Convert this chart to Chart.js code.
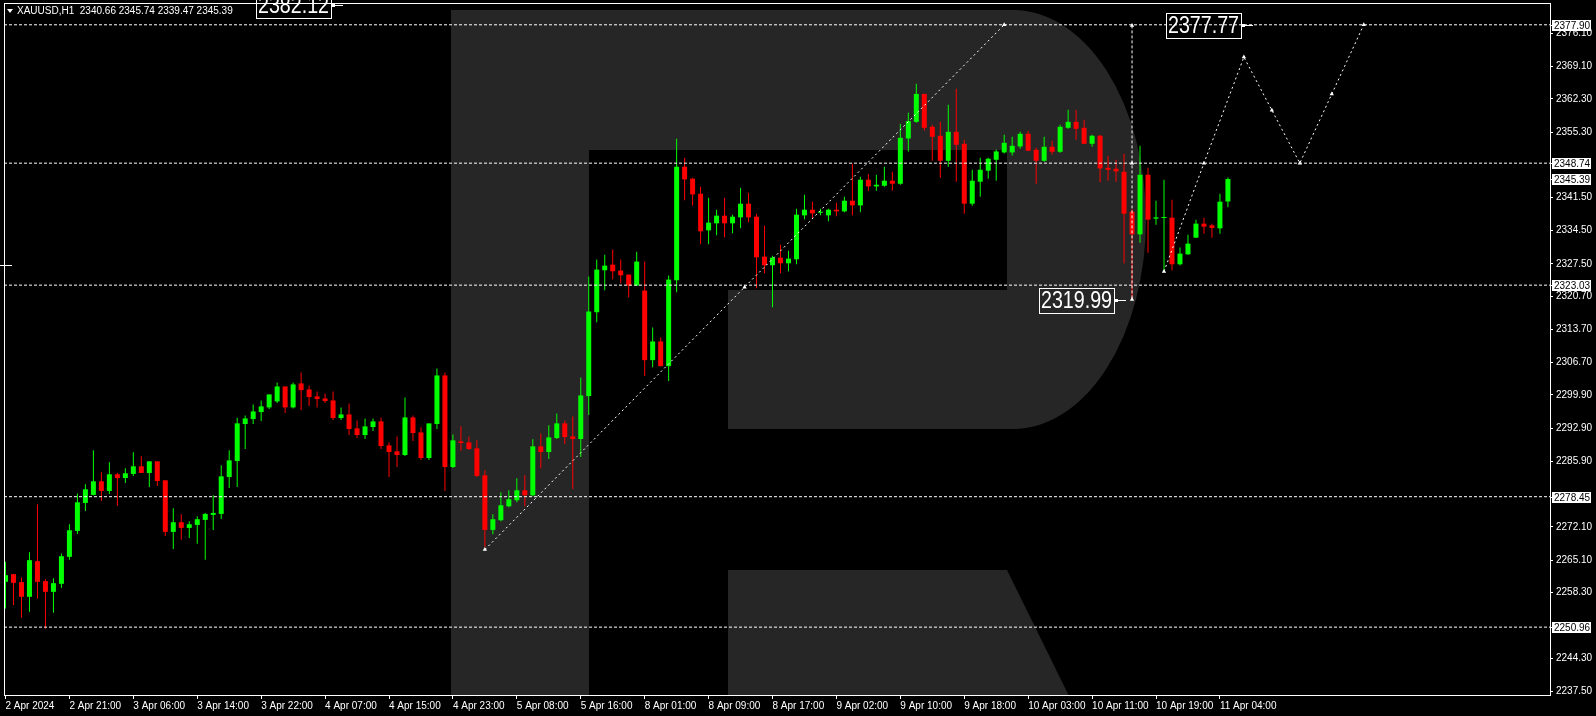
<!DOCTYPE html>
<html>
<head>
<meta charset="utf-8">
<title>XAUUSD H1</title>
<script src="https://cdn.jsdelivr.net/npm/chart.js@4.4.1/dist/chart.umd.min.js"></script>
<style>
  html, body { margin: 0; padding: 0; background: #000; }
  #chart { display: block; }
</style>
</head>
<body>
<canvas id="chart" width="1596" height="716"></canvas>
<script>
// candles, hourly, 2 Apr 13:00 .. 11 Apr 05:00
const opens = [
  2260.51, 2262.12, 2260.44, 2257.35, 2264.86, 2260.65, 2258.40, 2260.09, 2265.77, 2271.24,
  2277.13, 2278.82, 2281.69, 2279.66, 2283.17, 2282.39, 2283.24, 2284.85, 2283.45, 2285.90,
  2281.90, 2271.03, 2273.06, 2271.87, 2272.50, 2273.56, 2274.61, 2274.82, 2282.60, 2285.97,
  2293.76, 2294.81, 2296.28, 2297.27, 2298.53, 2301.68, 2297.27, 2302.32, 2301.05, 2299.58,
  2299.16, 2298.74, 2295.02, 2295.79, 2292.85, 2291.44, 2293.13, 2294.32, 2289.27, 2288.01,
  2287.23, 2295.16, 2292.00, 2286.60, 2293.76, 2304.00, 2284.71, 2290.11, 2289.90, 2288.64,
  2282.96, 2271.45, 2273.49, 2276.43, 2277.70, 2279.80, 2278.75, 2289.06, 2287.87, 2290.81,
  2293.90, 2291.16, 2290.60, 2299.65, 2317.33, 2326.17, 2327.36, 2326.10, 2325.25, 2322.94,
  2321.89, 2307.23, 2311.16, 2305.96, 2324.06, 2347.98, 2345.46, 2342.30, 2334.58, 2336.06,
  2337.67, 2336.06, 2337.32, 2340.20, 2337.46, 2329.04, 2327.22, 2328.83, 2327.64, 2328.48,
  2337.74, 2338.93, 2338.30, 2337.74, 2338.93, 2338.58, 2340.83, 2339.84, 2345.25, 2343.84,
  2343.98, 2345.04, 2344.40, 2353.94, 2357.45, 2363.34, 2356.40, 2354.51, 2349.24, 2355.35,
  2352.82, 2340.20, 2344.83, 2347.14, 2349.46, 2351.00, 2351.00, 2352.26, 2354.93, 2351.56,
  2349.24, 2352.19, 2351.14, 2356.19, 2357.45, 2356.19, 2352.82, 2354.51, 2347.77, 2347.56,
  2346.93, 2338.51, 2333.74, 2346.30, 2337.04, 2337.18, 2337.25, 2327.43, 2329.53, 2333.04,
  2335.99, 2335.64, 2335.00, 2340.66
];
const highs = [
  2264.72, 2262.12, 2261.42, 2266.75, 2276.85, 2261.07, 2261.28, 2266.47, 2272.64, 2279.10,
  2281.06, 2288.22, 2283.59, 2285.69, 2283.45, 2284.43, 2287.80, 2286.95, 2285.90, 2285.90,
  2281.90, 2276.01, 2274.75, 2273.28, 2274.33, 2275.03, 2278.75, 2285.06, 2288.22, 2295.09,
  2295.58, 2297.90, 2298.74, 2300.00, 2302.53, 2301.68, 2302.53, 2304.63, 2301.89, 2300.63,
  2300.21, 2300.63, 2297.27, 2298.11, 2294.53, 2294.95, 2294.95, 2295.16, 2289.90, 2291.16,
  2299.37, 2295.58, 2293.06, 2293.90, 2305.47, 2304.63, 2291.58, 2293.27, 2291.16, 2290.32,
  2284.01, 2274.75, 2279.38, 2279.80, 2282.33, 2282.96, 2290.53, 2291.79, 2293.48, 2296.00,
  2294.53, 2295.37, 2303.58, 2324.83, 2328.41, 2329.46, 2330.52, 2328.41, 2325.25, 2330.09,
  2327.99, 2314.10, 2312.00, 2325.04, 2353.87, 2349.88, 2345.67, 2343.77, 2341.46, 2338.93,
  2341.46, 2337.88, 2343.56, 2342.51, 2338.09, 2335.57, 2329.25, 2331.57, 2330.30, 2339.14,
  2342.09, 2340.62, 2339.14, 2339.14, 2340.41, 2341.67, 2348.61, 2345.88, 2346.44, 2346.30,
  2347.98, 2346.93, 2357.03, 2359.35, 2365.45, 2363.34, 2356.82, 2357.45, 2361.03, 2364.40,
  2353.66, 2347.35, 2349.88, 2349.88, 2351.63, 2354.72, 2354.30, 2355.35, 2355.56, 2351.98,
  2354.30, 2353.45, 2356.82, 2359.98, 2359.98, 2357.87, 2354.72, 2354.72, 2350.30, 2349.46,
  2350.72, 2339.00, 2352.40, 2347.77, 2340.83, 2345.25, 2341.04, 2330.94, 2333.67, 2336.83,
  2337.25, 2335.99, 2342.30, 2345.74
];
const lows = [
  2254.90, 2255.60, 2252.93, 2254.19, 2256.93, 2250.62, 2253.98, 2259.25, 2265.14, 2270.61,
  2275.45, 2278.68, 2277.55, 2279.03, 2276.50, 2281.34, 2282.82, 2283.45, 2280.50, 2280.71,
  2270.19, 2267.45, 2269.35, 2269.77, 2268.51, 2265.14, 2271.45, 2273.77, 2280.29, 2280.50,
  2288.50, 2293.76, 2294.39, 2296.91, 2298.18, 2296.07, 2297.05, 2296.70, 2297.55, 2297.27,
  2298.18, 2294.60, 2294.60, 2291.44, 2290.81, 2290.60, 2292.28, 2288.50, 2282.60, 2284.71,
  2287.02, 2290.18, 2286.18, 2286.18, 2292.71, 2279.66, 2284.50, 2288.08, 2288.29, 2282.60,
  2267.87, 2270.54, 2273.28, 2276.22, 2277.27, 2276.43, 2278.54, 2284.43, 2286.39, 2290.60,
  2289.55, 2280.08, 2286.81, 2295.65, 2315.22, 2321.96, 2324.27, 2323.43, 2320.48, 2322.87,
  2303.86, 2305.75, 2305.96, 2302.81, 2321.54, 2340.90, 2339.84, 2331.64, 2331.64, 2333.53,
  2333.11, 2333.95, 2335.00, 2336.27, 2322.38, 2325.54, 2318.38, 2325.54, 2325.96, 2327.43,
  2336.90, 2337.04, 2337.74, 2336.48, 2337.53, 2338.37, 2337.74, 2338.37, 2342.93, 2342.93,
  2343.77, 2342.93, 2344.19, 2351.21, 2357.24, 2355.56, 2349.24, 2345.67, 2347.98, 2344.83,
  2338.09, 2339.77, 2341.67, 2345.46, 2345.04, 2350.79, 2350.37, 2351.77, 2351.35, 2344.40,
  2349.03, 2350.51, 2350.93, 2355.98, 2353.66, 2352.82, 2352.19, 2344.69, 2345.04, 2344.83,
  2327.57, 2319.99, 2331.99, 2329.88, 2335.78, 2325.68, 2326.10, 2327.15, 2329.46, 2332.97,
  2333.88, 2333.04, 2333.88, 2339.47
];
const closes = [
  2261.91, 2260.30, 2257.35, 2265.07, 2260.51, 2258.40, 2260.23, 2265.91, 2271.38, 2277.27,
  2280.01, 2281.69, 2279.66, 2283.17, 2282.39, 2283.38, 2284.85, 2283.45, 2285.90, 2281.76,
  2271.03, 2273.06, 2271.87, 2272.64, 2273.70, 2274.82, 2275.03, 2282.74, 2286.11, 2293.90,
  2294.95, 2296.42, 2297.48, 2300.00, 2301.68, 2297.27, 2302.11, 2300.91, 2299.44, 2299.02,
  2298.60, 2295.02, 2295.79, 2292.71, 2291.44, 2293.27, 2294.32, 2289.13, 2287.87, 2287.23,
  2295.16, 2291.86, 2286.60, 2293.90, 2304.00, 2284.71, 2290.32, 2289.76, 2288.50, 2282.82,
  2271.45, 2273.70, 2276.64, 2277.91, 2279.80, 2278.75, 2289.06, 2287.87, 2290.95, 2293.90,
  2291.02, 2290.60, 2299.79, 2317.47, 2326.31, 2327.15, 2325.96, 2325.11, 2322.94, 2327.99,
  2307.23, 2311.16, 2305.96, 2324.20, 2347.98, 2345.32, 2342.16, 2334.37, 2336.20, 2337.67,
  2336.06, 2337.46, 2340.20, 2337.32, 2328.90, 2327.22, 2328.83, 2327.64, 2328.62, 2337.88,
  2338.93, 2338.16, 2338.51, 2338.93, 2338.58, 2340.83, 2339.84, 2345.25, 2343.84, 2344.19,
  2345.04, 2344.40, 2354.08, 2357.59, 2363.34, 2356.19, 2354.30, 2349.24, 2355.35, 2352.61,
  2340.20, 2345.04, 2347.35, 2349.67, 2351.21, 2353.03, 2352.40, 2354.93, 2351.35, 2349.24,
  2352.19, 2351.14, 2356.40, 2357.45, 2355.98, 2352.82, 2354.51, 2347.63, 2347.35, 2347.00,
  2338.09, 2333.74, 2346.30, 2336.83, 2337.32, 2337.32, 2327.43, 2329.67, 2331.78, 2335.99,
  2335.36, 2335.08, 2340.62, 2345.39
];

// time axis: one label every 8 bars
const labelEvery = 8;
const xLabels = [
  "2 Apr 2024", "2 Apr 21:00", "3 Apr 06:00", "3 Apr 14:00", "3 Apr 22:00",
  "4 Apr 07:00", "4 Apr 15:00", "4 Apr 23:00", "5 Apr 08:00", "5 Apr 16:00",
  "8 Apr 01:00", "8 Apr 09:00", "8 Apr 17:00", "9 Apr 02:00", "9 Apr 10:00",
  "9 Apr 18:00", "10 Apr 03:00", "10 Apr 11:00", "10 Apr 19:00", "11 Apr 04:00"
];
const yTicks = [
  2376.10, 2369.10, 2362.30, 2355.30, 2341.50, 2334.50, 2327.50, 2320.70, 2313.70,
  2306.70, 2299.90, 2292.90, 2285.90, 2272.10, 2265.10, 2258.30, 2244.30, 2237.50
];

// drawn objects
const levels = [2377.90, 2348.74, 2323.03, 2278.45, 2250.96];
const priceTags = [2377.90, 2348.74, 2345.39, 2323.03, 2278.45, 2250.96];
const trendLine = [{x: 60, y: 2267.3}, {x: 92.5, y: 2322.6}, {x: 125, y: 2377.9}];
const rangeLine = [{x: 141, y: 2377.77}, {x: 141, y: 2348.74}, {x: 141, y: 2319.99}];
const forecast = [
  {x: 145, y: 2325.9}, {x: 150, y: 2348.74}, {x: 155, y: 2371.1}, {x: 158.5, y: 2359.9},
  {x: 162, y: 2348.74}, {x: 166, y: 2363.3}, {x: 170, y: 2377.9}
];
const bigLabels = [{x: 141, y: 2319.99}, {x: 157, y: 2377.77}, {x: 43, y: 2382.12}];

const xMin = -0.1875, xMax = 193.3125;
const yMin = 2236.658, yMax = 2382.281;

const UP = '#00ff00';
const DOWN = '#ff0000';

function fontAvailable(name) {
  const c = document.createElement('canvas').getContext('2d');
  c.font = '40px monospace';
  const w1 = c.measureText('2376.10 Apr XAU').width;
  c.font = "40px '" + name + "', monospace";
  return c.measureText('2376.10 Apr XAU').width !== w1;
}
const narrow = fontAvailable('Liberation Sans Narrow');
const FAMILY = narrow ? "'Liberation Sans Narrow', 'Liberation Sans', sans-serif" : "'Liberation Sans', sans-serif";
const AXIS_SIZE = narrow ? 11 : 10;

const idx = opens.map((_, i) => i);
const bodies = idx.map(i => ({x: i, y: [opens[i], closes[i]]}));
const wicks = idx.map(i => ({x: i, y: [lows[i], highs[i]]}));
const candleColor = c => closes[c.dataIndex] >= opens[c.dataIndex] ? UP : DOWN;

const lineStyle = {
  type: 'line', borderColor: '#ffffff', borderWidth: 1, tension: 0,
  pointStyle: 'triangle', pointRadius: 2.5, pointBackgroundColor: '#ffffff',
  pointBorderColor: '#ffffff', pointBorderWidth: 0, order: 0
};

const background = {
  id: 'background',
  beforeDraw(chart) {
    const ctx = chart.ctx, a = chart.chartArea;
    ctx.save();
    ctx.fillStyle = '#000';
    ctx.fillRect(0, 0, chart.width, chart.height);
    ctx.beginPath();
    ctx.rect(a.left, a.top, a.right - a.left, a.bottom - a.top);
    ctx.clip();
    // watermark logo
    ctx.fillStyle = '#262626';
    ctx.fillRect(451, 10, 138, 700);
    ctx.beginPath();
    ctx.moveTo(589, 10);
    ctx.lineTo(1013, 10);
    ctx.ellipse(1013, 219.5, 133, 209.5, 0, -Math.PI / 2, Math.PI / 2);
    ctx.lineTo(728, 429);
    ctx.lineTo(728, 290);
    ctx.lineTo(1007, 290);
    ctx.lineTo(1007, 150);
    ctx.lineTo(589, 150);
    ctx.closePath();
    ctx.fill();
    ctx.beginPath();
    ctx.moveTo(728, 570);
    ctx.lineTo(1007, 570);
    ctx.lineTo(1071, 700);
    ctx.lineTo(728, 700);
    ctx.closePath();
    ctx.fill();
    ctx.restore();
  }
};

const overlay = {
  id: 'overlay',
  afterDraw(chart) {
    const ctx = chart.ctx, a = chart.chartArea;
    const xs = chart.scales.x, ys = chart.scales.y;
    ctx.save();
    // frame
    ctx.strokeStyle = '#ffffff';
    ctx.lineWidth = 1;
    ctx.strokeRect(a.left + 0.5, a.top - 0.5, a.right - a.left, a.bottom - a.top + 1);

    // header
    ctx.fillStyle = '#ffffff';
    ctx.beginPath();
    ctx.moveTo(7, 9); ctx.lineTo(13, 9); ctx.lineTo(10, 13); ctx.closePath();
    ctx.fill();
    const last = opens.length - 1;
    const header = 'XAUUSD,H1  ' + [opens[last], highs[last], lows[last], closes[last]].map(v => v.toFixed(2)).join(' ');
    ctx.font = AXIS_SIZE + 'px ' + FAMILY;
    ctx.textBaseline = 'middle';
    ctx.textAlign = 'left';
    ctx.fillText(header, 17, 11);

    // small mark on the left edge
    const my = Math.round(ys.getPixelForValue(2327.35)) + 0.5;
    ctx.beginPath(); ctx.moveTo(0, my); ctx.lineTo(12, my); ctx.stroke();

    // price tags on the right axis
    priceTags.forEach(v => {
      const y = Math.round(ys.getPixelForValue(v));
      ctx.fillStyle = '#ffffff';
      ctx.fillRect(a.right + 2, y - 5, 39, 11);
      ctx.beginPath(); ctx.moveTo(a.right, y + 0.5); ctx.lineTo(a.right + 3, y + 0.5); ctx.stroke();
      ctx.fillStyle = '#000000';
      ctx.fillText(v.toFixed(2), a.right + 4, y + 1);
    });

    // big price labels of the drawn objects
    ctx.font = '24px ' + FAMILY;
    bigLabels.forEach(l => {
      const txt = l.y.toFixed(2);
      const right = Math.round(xs.getPixelForValue(l.x) - 18.5);
      const cy = Math.round(ys.getPixelForValue(l.y));
      const w = 75, h = 25;
      ctx.strokeStyle = '#ffffff';
      ctx.strokeRect(right - w + 0.5, cy - 12 + 0.5, w, h);
      ctx.beginPath(); ctx.moveTo(right, cy + 0.5); ctx.lineTo(right + 12, cy + 0.5); ctx.stroke();
      ctx.fillStyle = '#ffffff';
      ctx.fillRect(right + 1, cy - 1, 3, 3);
      const tw = ctx.measureText(txt).width;
      const sx = Math.min(1, 71 / tw);
      ctx.save();
      ctx.translate(right - w / 2, cy + 1.5);
      ctx.scale(sx, 1);
      ctx.textAlign = 'center';
      ctx.textBaseline = 'middle';
      ctx.fillText(txt, 0, 0);
      ctx.restore();
    });
    ctx.restore();
  }
};

new Chart(document.getElementById('chart'), {
  type: 'bar',
  data: {
    datasets: [
      { type: 'bar', data: bodies, backgroundColor: candleColor, borderWidth: 0, barThickness: 5,
        minBarLength: 1, grouped: false, inflateAmount: 0, order: 2 },
      { type: 'bar', data: wicks, backgroundColor: candleColor, borderWidth: 0, barThickness: 1,
        grouped: false, inflateAmount: 0, order: 3 },
      ...levels.map(v => Object.assign({}, lineStyle, {
        data: [{x: xMin, y: v}, {x: xMax, y: v}], borderDash: [3, 2], pointRadius: 0, order: 1
      })),
      Object.assign({}, lineStyle, { data: trendLine, borderDash: [2, 3] }),
      Object.assign({}, lineStyle, { data: rangeLine, borderDash: [3, 2] }),
      Object.assign({}, lineStyle, { data: forecast, borderDash: [2, 3] })
    ]
  },
  options: {
    responsive: false,
    animation: false,
    events: [],
    devicePixelRatio: 1,
    layout: { padding: { left: 2, top: 3, right: 0, bottom: 0 } },
    plugins: { legend: { display: false }, tooltip: { enabled: false } },
    scales: {
      x: {
        type: 'linear', min: xMin, max: xMax, offset: false,
        afterBuildTicks: ax => { ax.ticks = xLabels.map((_, k) => ({value: k * labelEvery})); },
        afterFit: ax => { ax.height = 21; ax.paddingLeft = 0; ax.paddingRight = 0; },
        ticks: {
          autoSkip: false, maxRotation: 0, minRotation: 0, align: 'start', padding: 1,
          color: '#ffffff', font: { family: FAMILY, size: AXIS_SIZE },
          callback: v => xLabels[Math.round(v / labelEvery)]
        },
        grid: { drawOnChartArea: false, drawTicks: true, tickLength: 4, color: '#ffffff', offset: false },
        border: { display: false }
      },
      y: {
        type: 'linear', position: 'right', min: yMin, max: yMax,
        afterBuildTicks: ax => { ax.ticks = yTicks.map(v => ({value: v})); },
        afterFit: ax => { ax.width = 46; ax.paddingTop = 0; ax.paddingBottom = 0; },
        ticks: {
          autoSkip: false, padding: 3, color: '#ffffff',
          font: { family: FAMILY, size: AXIS_SIZE },
          callback: v => v.toFixed(2)
        },
        grid: { drawOnChartArea: false, drawTicks: true, tickLength: 3, color: '#ffffff' },
        border: { display: false }
      }
    }
  },
  plugins: [background, overlay]
});
</script>
</body>
</html>
